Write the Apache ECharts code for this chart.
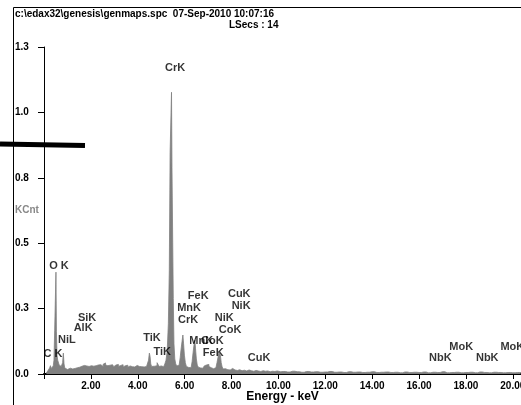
<!DOCTYPE html>
<html>
<head>
<meta charset="utf-8">
<script src="https://cdn.jsdelivr.net/npm/echarts@6/dist/echarts.min.js"></script>
<style>
  html, body { margin: 0; padding: 0; background: #fff; }
  #main { width: 521px; height: 405px; }
</style>
</head>
<body>
<div id="main"></div>
<script>
// spectrum: [keV, KCnt]
const lowPeaks = [
  [0.10, 0.004], [0.14, 0.008], [0.18, 0.012], [0.22, 0.018], [0.26, 0.024], [0.29, 0.033],
  [0.32, 0.022], [0.35, 0.028], [0.38, 0.025], [0.41, 0.032], [0.44, 0.055], [0.47, 0.172],
  [0.50, 0.178], [0.52, 0.405], [0.54, 0.168], [0.57, 0.075], [0.60, 0.055], [0.63, 0.048],
  [0.66, 0.036], [0.69, 0.034], [0.72, 0.040], [0.75, 0.030], [0.78, 0.028], [0.81, 0.045],
  [0.84, 0.083], [0.87, 0.040], [0.90, 0.024], [0.94, 0.022], [0.98, 0.018], [1.02, 0.021],
  [1.06, 0.019], [1.10, 0.023],
];
const midBand = [
  [1.15, 0.024], [1.20, 0.020], [1.25, 0.026], [1.30, 0.022], [1.35, 0.028], [1.40, 0.025],
  [1.45, 0.030], [1.50, 0.027], [1.55, 0.024], [1.60, 0.031], [1.65, 0.028], [1.70, 0.034],
  [1.75, 0.029], [1.80, 0.032], [1.85, 0.036], [1.90, 0.030], [1.95, 0.027], [2.00, 0.033],
  [2.05, 0.035], [2.10, 0.031], [2.15, 0.038], [2.20, 0.033], [2.25, 0.029], [2.30, 0.036],
  [2.35, 0.032], [2.40, 0.037], [2.45, 0.034], [2.50, 0.030], [2.55, 0.039], [2.60, 0.044],
  [2.65, 0.036], [2.70, 0.033], [2.75, 0.040], [2.80, 0.035], [2.85, 0.031], [2.90, 0.037],
  [2.95, 0.034], [3.00, 0.029], [3.05, 0.036], [3.10, 0.032], [3.15, 0.038], [3.20, 0.030],
  [3.25, 0.034], [3.30, 0.031], [3.35, 0.037], [3.40, 0.028], [3.45, 0.033], [3.50, 0.030],
  [3.55, 0.035], [3.60, 0.027], [3.65, 0.032], [3.70, 0.036], [3.75, 0.029], [3.80, 0.033],
  [3.85, 0.028], [3.90, 0.031], [3.95, 0.034], [4.00, 0.027], [4.05, 0.030], [4.10, 0.026],
  [4.15, 0.029], [4.20, 0.025], [4.25, 0.028], [4.30, 0.026], [4.35, 0.030], [4.40, 0.027],
];
const metalPeaks = [
  [4.44, 0.030], [4.48, 0.055], [4.51, 0.083], [4.54, 0.070], [4.57, 0.040], [4.61, 0.030],
  [4.65, 0.034], [4.70, 0.031], [4.75, 0.036], [4.80, 0.033], [4.85, 0.045], [4.89, 0.040],
  [4.93, 0.030], [4.98, 0.028], [5.03, 0.032], [5.08, 0.029], [5.13, 0.035], [5.18, 0.040],
  [5.23, 0.055], [5.28, 0.090], [5.33, 0.200], [5.36, 0.410], [5.40, 0.880], [5.43, 0.880],
  [5.45, 1.120], [5.47, 0.820], [5.50, 0.820], [5.53, 0.300], [5.56, 0.120], [5.60, 0.060],
  [5.64, 0.040], [5.69, 0.032], [5.74, 0.035], [5.79, 0.042], [5.83, 0.065], [5.87, 0.100],
  [5.91, 0.130], [5.94, 0.155], [5.97, 0.120], [6.01, 0.075], [6.05, 0.045], [6.10, 0.030],
  [6.15, 0.026], [6.20, 0.028], [6.25, 0.025], [6.30, 0.032], [6.34, 0.050], [6.38, 0.085],
  [6.42, 0.115], [6.45, 0.135], [6.48, 0.100], [6.52, 0.060], [6.56, 0.035], [6.61, 0.027],
  [6.66, 0.024], [6.71, 0.026], [6.76, 0.023], [6.81, 0.028], [6.86, 0.032], [6.91, 0.036],
  [6.96, 0.042], [7.01, 0.038], [7.06, 0.030], [7.11, 0.025], [7.16, 0.022], [7.21, 0.024],
  [7.26, 0.021], [7.31, 0.025], [7.36, 0.030], [7.40, 0.045], [7.44, 0.065], [7.48, 0.085],
  [7.51, 0.092], [7.54, 0.075], [7.58, 0.045], [7.62, 0.028], [7.67, 0.020], [7.72, 0.018],
  [7.77, 0.021], [7.82, 0.017], [7.87, 0.019], [7.92, 0.016], [7.97, 0.018],
];
const highBand = [
  [8.05, 0.022], [8.10, 0.016], [8.20, 0.014], [8.30, 0.017], [8.40, 0.013], [8.50, 0.015],
  [8.60, 0.012], [8.70, 0.016], [8.80, 0.013], [8.90, 0.011], [9.00, 0.014], [9.10, 0.012],
  [9.20, 0.010], [9.30, 0.013], [9.40, 0.011], [9.50, 0.012], [9.60, 0.009], [9.70, 0.011],
  [9.80, 0.010], [9.90, 0.012], [10.0, 0.009], [10.2, 0.010], [10.4, 0.008], [10.6, 0.011],
  [10.8, 0.009], [11.0, 0.007], [11.2, 0.010], [11.4, 0.008], [11.6, 0.009], [11.8, 0.007],
  [12.0, 0.008], [12.2, 0.010], [12.4, 0.007], [12.6, 0.008], [12.8, 0.006], [13.0, 0.009],
  [13.2, 0.007], [13.4, 0.008], [13.6, 0.006], [13.8, 0.007], [14.0, 0.009], [14.2, 0.006],
  [14.4, 0.007], [14.6, 0.008], [14.8, 0.006], [15.0, 0.007], [15.2, 0.005], [15.4, 0.008],
  [15.6, 0.006], [15.8, 0.007], [16.0, 0.006], [16.2, 0.008], [16.4, 0.005], [16.6, 0.007],
  [16.8, 0.006], [17.0, 0.009], [17.2, 0.005], [17.4, 0.006], [17.6, 0.007], [17.8, 0.005],
  [18.0, 0.006], [18.2, 0.007], [18.4, 0.005], [18.6, 0.008], [18.8, 0.006], [19.0, 0.005],
  [19.2, 0.007], [19.4, 0.006], [19.6, 0.005], [19.8, 0.006], [20.0, 0.005], [20.2, 0.006],
  [20.4, 0.005],
];

// element labels: [keV, KCnt, text]
const lineLabels = [
  [5.59, 1.217, 'CrK'], [0.64, 0.429, 'O K'], [1.84, 0.223, 'SiK'], [1.67, 0.183, 'AlK'],
  [0.98, 0.135, 'NiL'], [0.38, 0.080, 'C K'], [4.61, 0.143, 'TiK'], [5.04, 0.088, 'TiK'],
  [6.58, 0.310, 'FeK'], [6.19, 0.262, 'MnK'], [6.15, 0.215, 'CrK'], [6.71, 0.131, 'MnK'],
  [7.18, 0.131, 'CoK'], [7.22, 0.083, 'FeK'], [7.69, 0.223, 'NiK'], [7.94, 0.175, 'CoK'],
  [8.33, 0.318, 'CuK'], [8.41, 0.270, 'NiK'], [9.18, 0.064, 'CuK'], [16.91, 0.064, 'NbK'],
  [17.80, 0.107, 'MoK'], [18.91, 0.064, 'NbK'], [19.98, 0.107, 'MoK'],
];

const headerText = 'c:\\edax32\\genesis\\genmaps.spc  07-Sep-2010 10:07:16';
const liveText = 'LSecs : 14';

const font = 'Liberation Sans, Arial, sans-serif';
const grey = '#808080';

const chart = echarts.init(document.getElementById('main'));

chart.setOption({
  animation: false,
  title: [
    {
      text: headerText, left: 15, top: 9, padding: 0,
      textStyle: { fontSize: 10, fontWeight: 'bold', color: '#000', fontFamily: font },
    },
    {
      text: liveText, left: 229, top: 20, padding: 0,
      textStyle: { fontSize: 10, fontWeight: 'bold', color: '#000', fontFamily: font },
    },
  ],
  grid: { left: 44, right: 0, top: 47, bottom: 31, containLabel: false, outerBoundsMode: 'none' },
  xAxis: {
    type: 'value',
    min: 0,
    max: 20.35,
    interval: 2,
    name: 'Energy - keV',
    nameLocation: 'middle',
    nameGap: 17,
    nameMoveOverlap: false,
    nameTextStyle: { fontSize: 12, fontWeight: 'bold', color: '#000', fontFamily: font },
    axisLine: { lineStyle: { color: '#000', width: 2 } },
    axisTick: { length: 5, lineStyle: { color: '#000', width: 1 } },
    axisLabel: {
      margin: 7, fontSize: 10, fontWeight: 'bold', color: '#000', fontFamily: font,
      formatter: v => (v > 0 && Math.abs(v % 2) < 1e-6 ? v.toFixed(2) : ''),
    },
    splitLine: { show: false },
  },
  yAxis: {
    type: 'value',
    min: 0,
    max: 1.3,
    interval: 0.26,
    offset: 2,
    name: 'KCnt',
    nameLocation: 'middle',
    nameRotate: 0,
    nameGap: 15,
    nameMoveOverlap: false,
    nameTextStyle: {
      fontSize: 10, fontWeight: 'bold', color: '#888', fontFamily: font,
      align: 'center', verticalAlign: 'middle',
    },
    axisLine: { show: true, lineStyle: { color: '#000', width: 1 } },
    axisTick: { show: true, length: 6, lineStyle: { color: '#000', width: 1 } },
    axisLabel: {
      margin: 27, align: 'left', fontSize: 10, fontWeight: 'bold', color: '#000', fontFamily: font,
      formatter: v => v.toFixed(1),
    },
    splitLine: { show: false },
  },
  graphic: [
    {
      type: 'polyline',
      shape: { points: [[13.5, 405], [13.5, 7.5], [521, 7.5]] },
      style: { stroke: '#000', lineWidth: 1, fill: null },
      z: 10,
    },
    {
      type: 'line',
      shape: { x1: 0, y1: 144, x2: 85, y2: 145.5 },
      style: { stroke: '#000', lineWidth: 5 },
      z: 10,
    },
  ],
  series: [
    {
      type: 'line',
      step: 'middle',
      data: [].concat(lowPeaks, midBand, metalPeaks, highBand),
      showSymbol: false,
      lineStyle: { color: grey, width: 0.8 },
      areaStyle: { color: grey, opacity: 1 },
      z: 2,
    },
    {
      type: 'scatter',
      data: lineLabels,
      symbolSize: 1,
      itemStyle: { color: 'rgba(0,0,0,0)' },
      label: {
        show: true,
        position: 'inside',
        formatter: p => p.data[2],
        fontSize: 11,
        fontWeight: 'bold',
        color: '#000',
        fontFamily: font,
      },
      z: 5,
    },
  ],
});
</script>
</body>
</html>
